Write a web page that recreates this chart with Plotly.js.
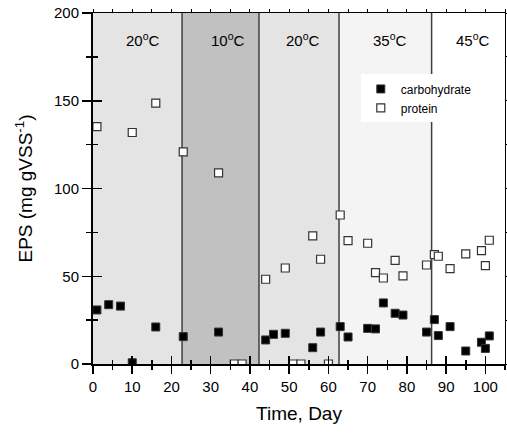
<!DOCTYPE html>
<html>
<head>
<meta charset="utf-8">
<script src="https://cdn.plot.ly/plotly-3.0.1.min.js"></script>
<style>html,body{margin:0;padding:0;background:#fff;}#chart{width:507px;height:435px;}</style>
</head>
<body>
<div id="chart"></div>
<script>
// Data
const carbDay = [1, 4, 7, 10, 16, 23, 32, 44, 46, 49, 56, 58, 63, 65, 70, 72, 74, 77, 79, 85, 87, 88, 91, 95, 99, 100, 101];
const carbVal = [30.8, 33.8, 33.0, 0.7, 21.1, 15.6, 18.2, 13.7, 16.9, 17.5, 9.3, 18.2, 21.3, 15.4, 20.3, 20.0, 34.8, 28.9, 27.9, 18.2, 25.3, 16.2, 21.3, 7.4, 12.4, 8.9, 16.0];
const protDay = [1, 10, 16, 23, 32, 36, 38, 44, 49, 51, 53, 56, 58, 60, 63, 65, 70, 72, 74, 77, 79, 85, 87, 88, 91, 95, 99, 100, 101];
const protVal = [135.3, 131.9, 148.6, 120.9, 108.9, 0, 0, 48.3, 54.7, 0, 0, 73.0, 59.7, 0, 84.9, 70.3, 68.8, 52.1, 49.0, 59.1, 50.2, 56.4, 62.3, 61.4, 54.3, 62.7, 64.6, 56.0, 70.5];
const phaseStart = [0, 22.7, 42.3, 62.7, 86.3];
const phaseEnd = [22.7, 42.3, 62.7, 86.3, 105];
const phaseLabels = ['20<sup>o</sup>C', '10<sup>o</sup>C', '20<sup>o</sup>C', '35<sup>o</sup>C', '45<sup>o</sup>C'];
const phaseLabelX = [12.8, 34.4, 53.4, 75.6, 96.8];
const phaseFill = ['#e4e4e4', '#c1c1c1', '#e4e4e4', '#f4f4f4', '#ffffff'];

const FONT = 'Liberation Sans, Arial, sans-serif';
const XR = [0, 105], YR = [0, 200];

const shapes = [];
phaseStart.forEach((s, i) => {
  shapes.push({type: 'rect', xref: 'x', yref: 'y', x0: s, x1: phaseEnd[i], y0: YR[0], y1: YR[1],
    fillcolor: phaseFill[i], line: {width: 0}, layer: 'below'});
});
phaseStart.slice(1).forEach(s => {
  shapes.push({type: 'line', xref: 'x', yref: 'y', x0: s, x1: s, y0: YR[0], y1: YR[1],
    line: {color: '#404040', width: 1.5}, layer: 'below'});
});

const annotations = phaseLabels.map((t, i) => ({
  x: phaseLabelX[i], y: 185, xref: 'x', yref: 'y', text: t, showarrow: false,
  font: {family: FONT, size: 15, color: '#000'}, xanchor: 'center', yanchor: 'middle'
}));

const traces = [
  {x: carbDay, y: carbVal, type: 'scatter', mode: 'markers', name: 'carbohydrate',
   marker: {symbol: 'square', size: 8, color: '#000', line: {color: '#333', width: 1}}},
  {x: protDay, y: protVal, type: 'scatter', mode: 'markers', name: 'protein',
   marker: {symbol: 'square', size: 8, color: '#fff', line: {color: '#333', width: 1.2}}},
  {x: [], y: [], xaxis: 'x2', yaxis: 'y2', showlegend: false, hoverinfo: 'skip', type: 'scatter'},
  {x: [], y: [], xaxis: 'x3', yaxis: 'y3', showlegend: false, hoverinfo: 'skip', type: 'scatter'}
];

const layout = {
  width: 507, height: 435,
  margin: {l: 93, r: 2, t: 13, b: 71},
  paper_bgcolor: '#fff', plot_bgcolor: '#fff',
  font: {family: FONT, color: '#000'},
  showlegend: true,
  legend: {x: 0.65, y: 0.825, xanchor: 'left', yanchor: 'top', bgcolor: '#fff', borderwidth: 0,
    font: {family: FONT, size: 12}, tracegroupgap: 0},
  xaxis: {range: XR, showline: true, linewidth: 2, linecolor: '#000', ticks: 'outside', ticklen: 8,
    tickwidth: 1.5, tickcolor: '#000', dtick: 10, tick0: 0, showgrid: false, zeroline: false,
    minor: {dtick: 5, ticklen: 4, ticks: 'outside', tickwidth: 1.5, tickcolor: '#000', showgrid: false},
    tickfont: {family: FONT, size: 15}, title: {text: 'Time, Day', font: {family: FONT, size: 19}, standoff: 13},
    fixedrange: true},
  yaxis: {range: YR, showline: true, linewidth: 2, linecolor: '#000', ticks: 'outside', ticklen: 9,
    tickwidth: 1.5, tickcolor: '#000', dtick: 50, tick0: 0, showgrid: false, zeroline: false,
    minor: {dtick: 25, ticklen: 5, ticks: 'outside', tickwidth: 1.5, tickcolor: '#000', showgrid: false},
    tickfont: {family: FONT, size: 15}, title: {text: 'EPS (mg gVSS<sup>-1</sup>)', font: {family: FONT, size: 19}, standoff: 16},
    fixedrange: true},
  xaxis2: {overlaying: 'x', anchor: 'y2', side: 'bottom', range: XR, showline: false, ticks: 'inside', ticklen: 8,
    tickwidth: 1.5, tickcolor: '#000', dtick: 10, tick0: 0, showgrid: false, zeroline: false, showticklabels: false,
    minor: {dtick: 5, ticklen: 4, ticks: 'inside', tickwidth: 1.5, tickcolor: '#000', showgrid: false}, fixedrange: true},
  yaxis2: {overlaying: 'y', anchor: 'x2', side: 'left', range: YR, showline: false, ticks: 'inside', ticklen: 9,
    tickwidth: 1.5, tickcolor: '#000', dtick: 50, tick0: 0, showgrid: false, zeroline: false, showticklabels: false,
    minor: {dtick: 25, ticklen: 5, ticks: 'inside', tickwidth: 1.5, tickcolor: '#000', showgrid: false}, fixedrange: true},
  xaxis3: {overlaying: 'x', anchor: 'y3', side: 'top', range: XR, showline: true, linewidth: 1, linecolor: '#000',
    ticks: 'outside', ticklen: 3, tickwidth: 1, tickcolor: '#000', dtick: 5, tick0: 0, showgrid: false,
    zeroline: false, showticklabels: false, fixedrange: true},
  yaxis3: {overlaying: 'y', anchor: 'x3', side: 'right', range: YR, showline: true, linewidth: 1, linecolor: '#000',
    ticks: 'outside', ticklen: 3, tickwidth: 1, tickcolor: '#000', dtick: 25, tick0: 0, showgrid: false,
    zeroline: false, showticklabels: false, fixedrange: true},
  shapes: shapes,
  annotations: annotations
};

Plotly.newPlot('chart', traces, layout, {displayModeBar: false, staticPlot: true});
</script>
</body>
</html>
